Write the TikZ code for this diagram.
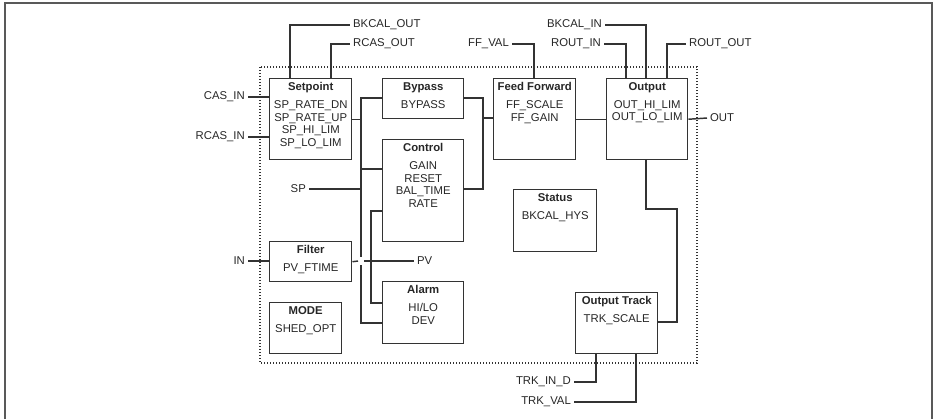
\documentclass[tikz,border=0pt]{standalone}
\usepackage{fontspec}
\setmainfont{Liberation Sans}
\usetikzlibrary{calc}

\tikzset{every picture/.style={line width=0.75pt}}
\tikzset{
  blk/.style={draw=black!80, line width=1.1pt, anchor=north west, inner sep=0pt},
  blktxt/.style={anchor=north, align=center, inner sep=0pt, text=black!85, font=\fontsize{8.5}{9.5}\selectfont},
  sig/.style={inner sep=2pt, text=black!85, font=\fontsize{8.5}{10}\selectfont},
  wire/.style={draw=black!80, line width=1.1pt},
}

\begin{document}
\begin{tikzpicture}[x=0.75pt,y=0.75pt,yscale=-1,xscale=1]
\useasboundingbox (0,0) rectangle (934,419);

%Frame
\draw [black!65, line width=1.2pt] (5,419) -- (5,3) -- (932,3) -- (932,419) ;
%Shape: Rectangle (block boundary)
\draw [black!80, line width=1pt, dash pattern=on 0.9pt off 1.35pt] (260,67) rectangle (697,363) ;

%Shape: Rectangle [setpoint]
\node [blk, minimum width=61.5pt, minimum height=60.75pt] (setpoint) at (269,78) {};
\node [blktxt] (setpoint-txt) at ([yshift=2.8pt]setpoint.north) {\textbf{Setpoint}\\[4pt]SP\_RATE\_DN\\SP\_RATE\_UP\\SP\_HI\_LIM\\SP\_LO\_LIM};
%Shape: Rectangle [bypass]
\node [blk, minimum width=60.75pt, minimum height=30pt] (bypass) at (382,78) {};
\node [blktxt] (bypass-txt) at ([yshift=2.8pt]bypass.north) {\textbf{Bypass}\\[4pt]BYPASS};
%Shape: Rectangle [control]
\node [blk, minimum width=60.75pt, minimum height=76.5pt] (control) at (382,139) {};
\node [blktxt] (control-txt) at ([yshift=2.8pt]control.north) {\textbf{Control}\\[4pt]GAIN\\RESET\\BAL\_TIME\\RATE};
%Shape: Rectangle [filter]
\node [blk, minimum width=61.5pt, minimum height=30pt] (filter) at (269,241) {};
\node [blktxt] (filter-txt) at ([yshift=2.8pt]filter.north) {\textbf{Filter}\\[4pt]PV\_FTIME};
%Shape: Rectangle [mode]
\node [blk, minimum width=54pt, minimum height=38.25pt] (mode) at (269,302) {};
\node [blktxt] (mode-txt) at ([yshift=2.8pt]mode.north) {\textbf{MODE}\\[4pt]SHED\_OPT};
%Shape: Rectangle [alarm]
\node [blk, minimum width=60.75pt, minimum height=46.5pt] (alarm) at (382,281) {};
\node [blktxt] (alarm-txt) at ([yshift=2.8pt]alarm.north) {\textbf{Alarm}\\[4pt]HI/LO\\DEV};
%Shape: Rectangle [feed forward]
\node [blk, minimum width=61.5pt, minimum height=60.75pt] (ff) at (493,78) {};
\node [blktxt] (ff-txt) at ([yshift=2.8pt]ff.north) {\textbf{Feed Forward}\\[4pt]FF\_SCALE\\FF\_GAIN};
%Shape: Rectangle [output]
\node [blk, minimum width=60.75pt, minimum height=60.75pt] (output) at (606,78) {};
\node [blktxt] (output-txt) at ([yshift=2.8pt]output.north) {\textbf{Output}\\[4pt]OUT\_HI\_LIM\\OUT\_LO\_LIM};
%Shape: Rectangle [status]
\node [blk, minimum width=62.25pt, minimum height=46.5pt] (status) at (513,189) {};
\node [blktxt] (status-txt) at ([yshift=2.8pt]status.north) {\textbf{Status}\\[4pt]BKCAL\_HYS};
%Shape: Rectangle [output track]
\node [blk, minimum width=61.5pt, minimum height=45.75pt] (track) at (575,292) {};
\node [blktxt] (track-txt) at ([yshift=2.8pt]track.north) {\textbf{Output Track}\\[4pt]TRK\_SCALE};

% Text Node
\node [sig, anchor=west] (bkcalout) at (350,25) {BKCAL\_OUT};
% Text Node
\node [sig, anchor=west] (rcasout) at (350,44) {RCAS\_OUT};
% Text Node
\node [sig, anchor=east] (casin) at (248,97) {CAS\_IN};
% Text Node
\node [sig, anchor=east] (rcasin) at (248,137) {RCAS\_IN};
% Text Node
\node [sig, anchor=east] (sp) at (309,189) {SP};
% Text Node
\node [sig, anchor=east] (in) at (248,261) {IN};
% Text Node
\node [sig, anchor=west] (pv) at (414,261) {PV};
% Text Node
\node [sig, anchor=east] (ffval) at (512,44) {FF\_VAL};
% Text Node
\node [sig, anchor=east] (bkcalin) at (605,25) {BKCAL\_IN};
% Text Node
\node [sig, anchor=east] (routin) at (604,44) {ROUT\_IN};
% Text Node
\node [sig, anchor=west] (routout) at (686,44) {ROUT\_OUT};
% Text Node
\node [sig, anchor=west] (out) at (707,118) {OUT};
% Text Node
\node [sig, anchor=east] (trkind) at (574,382) {TRK\_IN\_D};
% Text Node
\node [sig, anchor=east] (trkval) at (574,402) {TRK\_VAL};

%Bus points
\coordinate (busA1) at (361,98);
\coordinate (busA2) at (361,169);
\coordinate (busA3) at (361,189);
\coordinate (busA4) at (361,323);
\coordinate (cross) at (361,261);
\coordinate (busB1) at (371,211);
\coordinate (busB3) at (371,303);
\coordinate (busC1) at (483,98);
\coordinate (busC2) at (483,118);
\coordinate (busC3) at (483,189);
\coordinate (trk1) at (646,209);
\coordinate (trk2) at (677,209);
\coordinate (trk3) at (677,322);

%Straight Lines
\draw [wire] ($(setpoint.north west)+(21,0)$) |- (bkcalout.west) ;
\draw [wire] ($(setpoint.north west)+(62,0)$) |- (rcasout.west) ;
\draw [wire] (casin.east) -- (casin.east -| setpoint.west) ;
\draw [wire] (rcasin.east) -- (rcasin.east -| setpoint.west) ;
\draw [wire] (in.east) -- (in.east -| filter.west) ;
%setpoint bus
\draw [wire] (setpoint.east) -- (setpoint.east -| busA1) ;
\draw [wire] (bypass.west |- busA1) -- (busA1) -- ($(cross)+(0,-4)$) ;
\draw [wire] ($(cross)+(0,4)$) -- (busA4) -- (alarm.west |- busA4) ;
\draw [wire] (busA2) -- (control.west |- busA2) ;
\draw [wire] (sp.east) -- (busA3) ;
%pv bus
\draw [wire] (filter.east) -- ($(cross)+(-3,0)$) ;
\draw [wire] ($(cross)+(3,0)$) -- (pv.west) ;
\draw [wire] (control.west |- busB1) -- (busB1) -- (busB3) -- (alarm.west |- busB3) ;
%to feed forward
\draw [wire] (bypass.east |- busC1) -- (busC1) -- (busC3) -- (control.east |- busC3) ;
\draw [wire] (busC2) -- (ff.west |- busC2) ;
\draw [wire] (ffval.east) -| ($(ff.north west)+(41,0)$) ;
\draw [wire] (ff.east) -- (ff.east -| output.west) ;
%output
\draw [wire] (bkcalin.east) -| ($(output.north west)+(40,0)$) ;
\draw [wire] (routin.east) -| ($(output.north west)+(20,0)$) ;
\draw [wire] ($(output.north west)+(61,0)$) |- (routout.west) ;
\draw [wire] (output.east) -- (out.west) ;
\draw [wire] ($(output.south west)+(40,0)$) -- (trk1) -- (trk2) -- (trk3) -- (track.east |- trk3) ;
%output track
\draw [wire] ($(track.south west)+(21,0)$) |- (trkind.east) ;
\draw [wire] ($(track.south west)+(61,0)$) |- (trkval.east) ;

\end{tikzpicture}
\end{document}
